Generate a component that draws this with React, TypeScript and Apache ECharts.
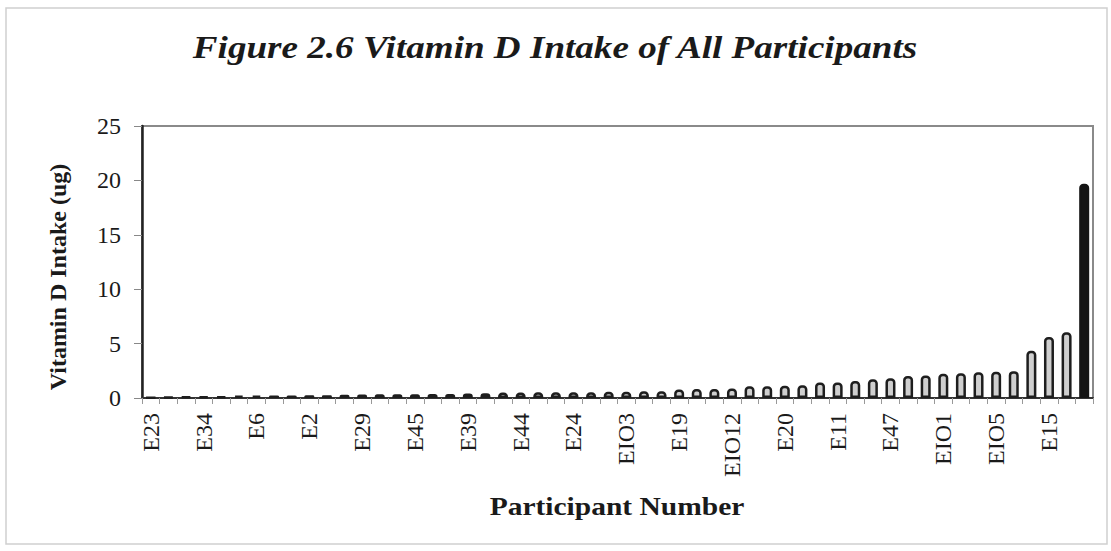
import React, { useEffect, useRef } from "react";
import * as echarts from "echarts";

const tickLabels = [
  "E23", "E34", "E6", "E2", "E29", "E45", "E39", "E44", "E24",
  "EIO3", "E19", "EIO12", "E20", "E11", "E47", "EIO1", "EIO5", "E15",
];

const intake = [
  0.05, 0.1, 0.12, 0.15, 0.15, 0.22, 0.22, 0.23, 0.24, 0.25,
  0.25, 0.3, 0.32, 0.35, 0.35, 0.35, 0.36, 0.37, 0.42, 0.43,
  0.5, 0.5, 0.52, 0.52, 0.53, 0.53, 0.57, 0.58, 0.62, 0.62,
  0.78, 0.82, 0.82, 0.88, 1.07, 1.07, 1.12, 1.17, 1.42, 1.42,
  1.57, 1.72, 1.82, 2.02, 2.07, 2.22, 2.27, 2.37, 2.42, 2.47,
  4.35, 5.6, 6.05, 19.7,
];

const yTicks = { min: 0, max: 25, interval: 5 };

const titleText = "Figure 2.6 Vitamin D Intake of All Participants";
const yName = "Vitamin D Intake (ug)";
const xName = "Participant Number";

const FONT = "'Liberation Serif', 'Times New Roman', serif";

export default function App() {
  const ref = useRef<HTMLDivElement>(null);
  useEffect(() => {
    if (!ref.current) return;
    const chart = echarts.init(ref.current, undefined, { renderer: "svg" });
    const categories = intake.map((_, i) =>
      i % 3 === 0 ? tickLabels[i / 3] ?? "" : ""
    );
    chart.setOption({
      animation: false,
      backgroundColor: "#ffffff",
      graphic: [
        {
          type: "rect",
          shape: { x: 6, y: 8, width: 1101, height: 536 },
          style: { fill: "none", stroke: "#d0d0d0", lineWidth: 1.5 },
          silent: true,
        },
        {
          type: "text",
          x: 555,
          y: 47,
          scaleX: 1.16,
          style: {
            text: titleText,
            fontFamily: FONT,
            fontStyle: "italic",
            fontWeight: "bold",
            fontSize: 32,
            fill: "#1a1a1a",
            textAlign: "center",
            textVerticalAlign: "middle",
          },
          silent: true,
        },
        {
          type: "text",
          x: 58,
          y: 277,
          rotation: Math.PI / 2,
          style: {
            text: yName,
            fontFamily: FONT,
            fontWeight: "bold",
            fontSize: 24,
            fill: "#1a1a1a",
            textAlign: "center",
            textVerticalAlign: "middle",
          },
          silent: true,
        },
        {
          type: "text",
          x: 617,
          y: 507,
          scaleX: 1.18,
          style: {
            text: xName,
            fontFamily: FONT,
            fontWeight: "bold",
            fontSize: 25,
            fill: "#1a1a1a",
            textAlign: "center",
            textVerticalAlign: "middle",
          },
          silent: true,
        },
      ],
      grid: {
        left: 142,
        top: 126,
        width: 951,
        height: 272,
        show: true,
        borderColor: "#8a8a8a",
        borderWidth: 2,
        backgroundColor: "transparent",
      },
      xAxis: {
        type: "category",
        data: categories,
        boundaryGap: true,
        axisLine: { show: true, lineStyle: { color: "#333", width: 2 } },
        axisTick: {
          show: true,
          interval: 0,
          alignWithLabel: false,
          length: 6,
          lineStyle: { color: "#999", width: 1 },
        },
        axisLabel: {
          interval: 0,
          rotate: 90,
          margin: 15,
          fontFamily: FONT,
          fontSize: 24,
          color: "#1a1a1a",
        },
        splitLine: { show: false },
      },
      yAxis: {
        type: "value",
        min: yTicks.min,
        max: yTicks.max,
        interval: yTicks.interval,
        axisLine: { show: true, lineStyle: { color: "#222", width: 2.5 } },
        axisTick: { show: true, length: 8, lineStyle: { color: "#888", width: 1 } },
        axisLabel: {
          margin: 21,
          fontFamily: FONT,
          fontSize: 24,
          color: "#1a1a1a",
        },
        splitLine: { show: false },
      },
      series: [
        {
          type: "bar",
          barWidth: 10,
          data: intake.map((v, i) =>
            i === intake.length - 1
              ? { value: v, itemStyle: { color: "#141414", borderColor: "#141414" } }
              : v
          ),
          itemStyle: {
            color: "#cfcfcf",
            borderColor: "#1e1e1e",
            borderWidth: 2.5,
            borderRadius: [3, 3, 0, 0],
          },
        },
      ],
    });
    return () => chart.dispose();
  }, []);
  return (
    <div
      ref={ref}
      style={{ position: "fixed", left: 0, top: 0, width: 1111, height: 551 }}
    />
  );
}
